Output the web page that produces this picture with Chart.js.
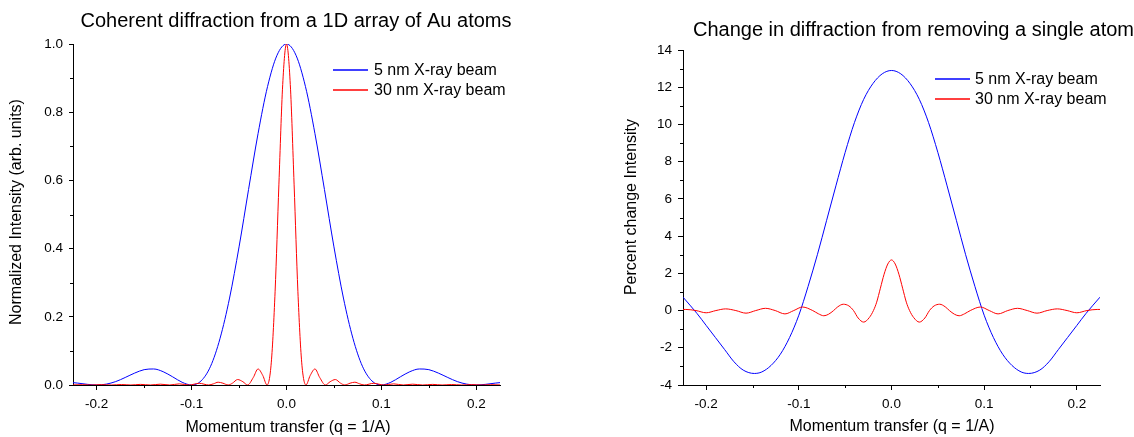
<!DOCTYPE html>
<html lang="en">
<head>
<meta charset="UTF-8">
<title>Coherent diffraction from a 1D array of Au atoms</title>
<script src="https://cdn.jsdelivr.net/npm/chart.js"></script>
<style>
    body {
        margin: 0;
        background: #ffffff;
    }
    .wrap {
        position: relative;
        width: 1134px;
        height: 437px;
    }
    canvas {
        position: absolute;
        top: 0;
    }
    #leftChart { left: 0; }
    #rightChart { left: 567px; }
</style>
</head>
<body>
<div class="wrap">
    <canvas id="leftChart" width="567" height="437"></canvas>
    <canvas id="rightChart" width="567" height="437"></canvas>
</div>
<script>
    // ---- data ----
    const seriesLabels = ['5 nm X-ray beam', '30 nm X-ray beam'];

    const xTicks = [-0.2, -0.1, 0.0, 0.1, 0.2];
    const yTicksLeft = [0, 0.2, 0.4, 0.6, 0.8, 1.0];
    const yTicksRight = [-4, -2, 0, 2, 4, 6, 8, 10, 12, 14];

    // left panel, 5 nm beam
    const qLeft5 = [-0.225, -0.22, -0.21, -0.20, -0.19, -0.18, -0.17, -0.16, -0.15, -0.14, -0.13, -0.12,
        -0.11, -0.10, -0.09, -0.08, -0.07, -0.06, -0.05, -0.04, -0.03, -0.02, -0.01, 0,
        0.01, 0.02, 0.03, 0.04, 0.05, 0.06, 0.07, 0.08, 0.09, 0.10, 0.11, 0.12,
        0.13, 0.14, 0.15, 0.16, 0.17, 0.18, 0.19, 0.20, 0.21, 0.22, 0.225];
    const intLeft5 = [0.007, 0.0055, 0.002, 0, 0.0025, 0.010, 0.022, 0.035, 0.045, 0.047, 0.039, 0.024,
        0.008, 0, 0.012, 0.055, 0.137, 0.255, 0.405, 0.573, 0.737, 0.875, 0.967, 1.0,
        0.967, 0.875, 0.737, 0.573, 0.405, 0.255, 0.137, 0.055, 0.012, 0, 0.008, 0.024,
        0.039, 0.047, 0.045, 0.035, 0.022, 0.010, 0.0025, 0, 0.002, 0.0055, 0.007];

    // left panel, 30 nm beam
    const qLeft30 = [-0.225, -0.215, -0.205, -0.195, -0.1845, -0.174, -0.164, -0.154, -0.1435, -0.133,
        -0.123, -0.113, -0.1025, -0.092, -0.082, -0.077, -0.072, -0.067, -0.0615, -0.057, -0.0515,
        -0.046, -0.041, -0.035, -0.030, -0.025, -0.0205, -0.016, -0.012, -0.008, -0.004, 0,
        0.004, 0.008, 0.012, 0.016, 0.0205, 0.025, 0.030, 0.035, 0.041, 0.046, 0.0515,
        0.057, 0.0615, 0.067, 0.072, 0.077, 0.082, 0.092, 0.1025, 0.113, 0.123, 0.133,
        0.1435, 0.154, 0.164, 0.174, 0.1845, 0.195, 0.205, 0.215, 0.225];
    const intLeft30 = [0.0002, 0.0009, 0, 0.0011, 0, 0.0014, 0, 0.0018, 0, 0.0024,
        0, 0.0033, 0, 0.005, 0, 0.0035, 0.0082, 0.0053, 0, 0.0053, 0.016,
        0.0097, 0, 0.022, 0.047, 0.028, 0, 0.067, 0.275, 0.589, 0.881, 1.0,
        0.881, 0.589, 0.275, 0.067, 0, 0.028, 0.047, 0.022, 0, 0.0097, 0.016,
        0.0053, 0, 0.0053, 0.0082, 0.0035, 0, 0.005, 0, 0.0033, 0, 0.0024,
        0, 0.0018, 0, 0.0014, 0, 0.0011, 0, 0.0009, 0.0002];

    // right panel, 5 nm beam
    const qRight5 = [-0.225, -0.21, -0.20, -0.19, -0.18, -0.17, -0.16, -0.148, -0.14, -0.13, -0.12, -0.11,
        -0.10, -0.09, -0.08, -0.07, -0.06, -0.05, -0.04, -0.03, -0.02, -0.01, 0,
        0.01, 0.02, 0.03, 0.04, 0.05, 0.06, 0.07, 0.08, 0.09, 0.10, 0.11, 0.12,
        0.13, 0.14, 0.148, 0.16, 0.17, 0.18, 0.19, 0.20, 0.21, 0.225];
    const pctRight5 = [0.72, -0.15, -0.8, -1.45, -2.1, -2.75, -3.2, -3.38, -3.3, -2.95, -2.35, -1.45,
        -0.25, 1.3, 3.0, 4.85, 6.7, 8.5, 10.1, 11.35, 12.2, 12.72, 12.9,
        12.72, 12.2, 11.35, 10.1, 8.5, 6.7, 4.85, 3.0, 1.3, -0.25, -1.45, -2.35,
        -2.95, -3.3, -3.38, -3.2, -2.75, -2.1, -1.45, -0.8, -0.15, 0.72];

    // right panel, 30 nm beam
    const qRight30 = [-0.225, -0.222, -0.211, -0.200, -0.1895, -0.179, -0.168, -0.157, -0.1465, -0.136,
        -0.1255, -0.115, -0.1055, -0.096, -0.085, -0.079, -0.073, -0.068, -0.0625, -0.058, -0.052,
        -0.046, -0.041, -0.036, -0.030, -0.024, -0.0195, -0.016, -0.012, -0.008, -0.004, 0,
        0.004, 0.008, 0.012, 0.016, 0.0195, 0.024, 0.030, 0.036, 0.041, 0.046, 0.052,
        0.058, 0.0625, 0.068, 0.073, 0.079, 0.085, 0.096, 0.1055, 0.115, 0.1255, 0.136,
        0.1465, 0.157, 0.168, 0.179, 0.1895, 0.200, 0.211, 0.222, 0.225];
    const pctRight30 = [0.06, 0.06, 0, -0.12, 0, 0.09, 0, -0.14, 0, 0.12,
        0, -0.18, 0, 0.19, 0, -0.17, -0.28, -0.2, 0, 0.2, 0.34,
        0.25, 0, -0.4, -0.62, -0.38, 0, 0.45, 1.2, 1.95, 2.5, 2.72,
        2.5, 1.95, 1.2, 0.45, 0, -0.38, -0.62, -0.4, 0, 0.25, 0.34,
        0.2, 0, -0.2, -0.28, -0.17, 0, 0.19, 0, -0.18, 0, 0.12,
        0, -0.14, 0, 0.09, 0, -0.12, 0, 0.06, 0.06];

    const FONT = "'Liberation Sans', Arial, sans-serif";

    function toPoints(xs, ys) {
        return xs.map((x, i) => ({ x: x, y: ys[i] }));
    }

    // minor ticks half way between the major ones
    function minorValues(scale) {
        const v = scale.ticks.map(t => t.value);
        const step = v[1] - v[0];
        const out = [];
        for (let m = v[0] - step / 2; m <= scale.max + 1e-9; m += step) {
            if (m >= scale.min - 1e-9) out.push(m);
        }
        return out;
    }

    // titles, minor ticks and legend
    const decorations = {
        id: 'decorations',
        afterDraw(chart, args, opts) {
            const ctx = chart.ctx;
            const xs = chart.scales.x, ys = chart.scales.y;
            const area = chart.chartArea;
            ctx.save();

            ctx.strokeStyle = '#000';
            ctx.lineWidth = 1;
            ctx.beginPath();
            minorValues(xs).forEach(v => {
                const px = Math.round(xs.getPixelForValue(v)) + 0.5;
                ctx.moveTo(px, area.bottom);
                ctx.lineTo(px, area.bottom + 3);
            });
            minorValues(ys).forEach(v => {
                const py = Math.round(ys.getPixelForValue(v)) + 0.5;
                ctx.moveTo(area.left, py);
                ctx.lineTo(area.left - 3, py);
            });
            ctx.stroke();

            ctx.fillStyle = '#000';
            ctx.textBaseline = 'alphabetic';
            opts.texts.forEach(t => {
                ctx.save();
                ctx.font = t.size + 'px ' + FONT;
                ctx.textAlign = t.align || 'center';
                ctx.translate(t.x, t.y);
                if (t.rotate) ctx.rotate(-Math.PI / 2);
                ctx.fillText(t.text, 0, 0);
                ctx.restore();
            });

            const lg = opts.legend;
            ctx.font = '16px ' + FONT;
            ctx.textAlign = 'left';
            ctx.textBaseline = 'middle';
            chart.data.datasets.forEach((ds, i) => {
                const y = lg.ys[i];
                ctx.strokeStyle = ds.borderColor;
                ctx.lineWidth = 1.5;
                ctx.beginPath();
                ctx.moveTo(lg.x1, y);
                ctx.lineTo(lg.x2, y);
                ctx.stroke();
                ctx.fillStyle = '#000';
                ctx.fillText(ds.label, lg.tx, y + 1);
            });
            ctx.restore();
        }
    };

    function makeChart(id, cfg) {
        return new Chart(document.getElementById(id), {
            type: 'line',
            data: {
                datasets: [
                    { label: seriesLabels[0], data: toPoints(cfg.q5, cfg.v5), borderColor: '#0000ff', order: 1 },
                    { label: seriesLabels[1], data: toPoints(cfg.q30, cfg.v30), borderColor: '#ff0000', order: 0 }
                ]
            },
            options: {
                responsive: false,
                animation: false,
                events: [],
                layout: { padding: { left: 0, top: cfg.top, right: cfg.right, bottom: 0 } },
                elements: {
                    point: { radius: 0 },
                    line: { borderWidth: 1, cubicInterpolationMode: 'monotone', fill: false }
                },
                plugins: {
                    legend: { display: false },
                    title: { display: false },
                    tooltip: { enabled: false },
                    decorations: { texts: cfg.texts, legend: cfg.legend }
                },
                scales: {
                    x: {
                        type: 'linear',
                        min: -0.225,
                        max: 0.225,
                        afterBuildTicks: s => { s.ticks = xTicks.map(v => ({ value: v })); },
                        afterFit: s => { s.height = 437 - cfg.bottom; },
                        ticks: {
                            color: '#000', padding: 6, maxRotation: 0, autoSkip: false,
                            font: { family: FONT, size: 13.5 },
                            callback: v => v.toFixed(1)
                        },
                        grid: { drawOnChartArea: false, tickLength: 5, tickColor: '#000', tickWidth: 1 },
                        border: { display: true, color: '#000', width: 1 }
                    },
                    y: {
                        type: 'linear',
                        min: cfg.yTicks[0],
                        max: cfg.yTicks[cfg.yTicks.length - 1],
                        afterBuildTicks: s => { s.ticks = cfg.yTicks.map(v => ({ value: v })); },
                        afterFit: s => { s.width = cfg.left; },
                        ticks: {
                            color: '#000', padding: 6, autoSkip: false,
                            font: { family: FONT, size: 13.5 },
                            callback: cfg.yFormat
                        },
                        grid: { drawOnChartArea: false, tickLength: cfg.yTickLen, tickColor: '#000', tickWidth: 1 },
                        border: { display: true, color: '#000', width: 1 }
                    }
                }
            },
            plugins: [decorations]
        });
    }

    makeChart('leftChart', {
        q5: qLeft5, v5: intLeft5, q30: qLeft30, v30: intLeft30,
        yTicks: yTicksLeft,
        yFormat: v => v.toFixed(1),
        yTickLen: 4,
        left: 73, right: 67, top: 44, bottom: 385,
        texts: [
            { text: 'Coherent diffraction from a 1D array of Au atoms', x: 296, y: 27, size: 20 },
            { text: 'Momentum transfer (q = 1/A)', x: 288, y: 432, size: 16 },
            { text: 'Normalized Intensity (arb. units)', x: 21, y: 212, size: 16, rotate: true }
        ],
        legend: { x1: 333, x2: 368, tx: 374, ys: [70, 90] }
    });

    makeChart('rightChart', {
        q5: qRight5, v5: pctRight5, q30: qRight30, v30: pctRight30,
        yTicks: yTicksRight,
        yFormat: v => String(v),
        yTickLen: 5,
        left: 116, right: 34, top: 50, bottom: 385,
        texts: [
            { text: 'Change in diffraction from removing a single atom', x: 126, y: 36, size: 20, align: 'left' },
            { text: 'Momentum transfer (q = 1/A)', x: 325, y: 431, size: 16 },
            { text: 'Percent change Intensity', x: 69, y: 207, size: 16, rotate: true }
        ],
        legend: { x1: 368, x2: 403, tx: 408, ys: [79, 99] }
    });
</script>
</body>
</html>
